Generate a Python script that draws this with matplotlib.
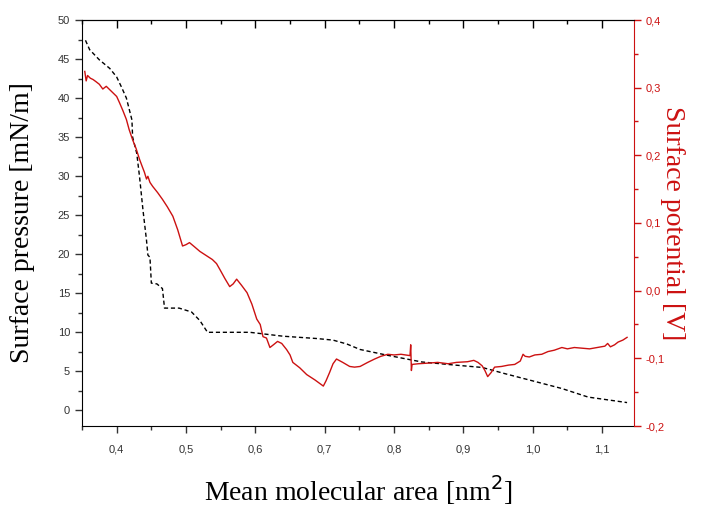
import numpy as np
import matplotlib.pyplot as plt
from matplotlib.ticker import MultipleLocator, FuncFormatter

# surface pressure isotherm (left axis)
area_p = [0.355, 0.361, 0.375, 0.390, 0.400, 0.407, 0.414, 0.422, 0.423, 0.429,
          0.433, 0.438, 0.443, 0.445, 0.448, 0.450, 0.458, 0.466, 0.469, 0.490,
          0.508, 0.520, 0.531, 0.592, 0.640, 0.689, 0.712, 0.732, 0.751, 0.791,
          0.840, 0.888, 0.927, 0.960, 0.999, 1.042, 1.080, 1.136]
pressure = [47.4, 46.2, 44.9, 43.8, 42.7, 41.4, 40.0, 37.2, 35.0, 32.9,
            29.9, 25.6, 21.8, 19.9, 19.6, 16.3, 16.2, 15.6, 13.1, 13.1,
            12.6, 11.5, 10.0, 10.0, 9.5, 9.2, 9.0, 8.5, 7.8, 7.05,
            6.2, 5.8, 5.5, 4.7, 3.8, 2.8, 1.7, 1.0]

# surface potential (right axis)
area_v = [0.354, 0.356, 0.358, 0.362, 0.366, 0.370, 0.375, 0.380, 0.385, 0.390,
          0.394, 0.400, 0.404, 0.409, 0.414, 0.418, 0.423, 0.428, 0.433, 0.437,
          0.440, 0.443, 0.445, 0.448, 0.452, 0.459, 0.466, 0.473, 0.481, 0.488,
          0.495, 0.500, 0.505, 0.512, 0.520, 0.529, 0.538, 0.544, 0.549, 0.556,
          0.563, 0.568, 0.573, 0.580, 0.588, 0.595, 0.602, 0.607, 0.611, 0.616,
          0.621, 0.626, 0.632, 0.638, 0.645, 0.650, 0.654, 0.664, 0.674, 0.686,
          0.698, 0.702, 0.707, 0.712, 0.717, 0.726, 0.736, 0.743, 0.751, 0.762,
          0.772, 0.781, 0.791, 0.800, 0.810, 0.823, 0.824, 0.825, 0.826, 0.835,
          0.850, 0.863, 0.878, 0.890, 0.906, 0.915, 0.921, 0.927, 0.931, 0.935,
          0.940, 0.945, 0.955, 0.965, 0.974, 0.982, 0.986, 0.989, 0.995, 1.003,
          1.013, 1.022, 1.031, 1.042, 1.050, 1.060, 1.071, 1.082, 1.093, 1.104,
          1.108, 1.112, 1.118, 1.123, 1.130, 1.136]
potential = [0.324, 0.310, 0.318, 0.314, 0.312, 0.309, 0.305, 0.298, 0.302, 0.297,
             0.293, 0.287, 0.278, 0.266, 0.253, 0.238, 0.223, 0.210, 0.194, 0.183,
             0.175, 0.165, 0.169, 0.160, 0.154, 0.145, 0.135, 0.124, 0.110, 0.090,
             0.066, 0.068, 0.071, 0.065, 0.058, 0.052, 0.046, 0.040, 0.031, 0.018,
             0.006, 0.010, 0.017, 0.008, -0.003, -0.020, -0.042, -0.050, -0.068, -0.070,
             -0.084, -0.080, -0.075, -0.078, -0.087, -0.095, -0.106, -0.114, -0.124, -0.132,
             -0.141, -0.133, -0.121, -0.108, -0.101, -0.106, -0.112, -0.113, -0.112, -0.106,
             -0.101, -0.097, -0.094, -0.095, -0.094, -0.096, -0.080, -0.118, -0.109, -0.108,
             -0.107, -0.106, -0.108, -0.106, -0.105, -0.103, -0.106, -0.111, -0.118, -0.127,
             -0.121, -0.113, -0.112, -0.110, -0.109, -0.104, -0.094, -0.097, -0.098, -0.095,
             -0.094, -0.090, -0.088, -0.084, -0.086, -0.084, -0.085, -0.086, -0.084, -0.082,
             -0.078, -0.083, -0.080, -0.076, -0.073, -0.069]

red = '#cc1111'
tick_col = '#333333'
sans = 'Liberation Sans'
serif = 'Liberation Serif'

def comma(v, pos):
    return ('%.1f' % v).replace('.', ',')

def comma0(v, pos):
    return '%d' % round(v)

left, bottom, width, height = 82/715, 1 - 426/508, (634-82)/715, (426-20)/508
fig = plt.figure(figsize=(7.15, 5.08), dpi=100)
ax = fig.add_axes([left, bottom, width, height])
ax2 = ax.twinx()
# thin strip sitting on the top edge: its bottom ticks drawn 'out' hang
# down into the plot, giving inward ticks on the top spine
ax3 = fig.add_axes([left, bottom + height, width, 0.0001], sharex=ax, frameon=False)

ax.plot(area_p, pressure, color='black', linewidth=1.0, dashes=(3, 2))
ax2.plot(area_v, potential, color=red, linewidth=1.0)

ax.set_xlim(0.35, 1.146)
ax.set_ylim(-2, 50)
ax2.set_ylim(-0.2, 0.4)

ax.xaxis.set_major_locator(MultipleLocator(0.1))
ax.xaxis.set_minor_locator(MultipleLocator(0.05))
ax.yaxis.set_major_locator(MultipleLocator(5))
ax.yaxis.set_minor_locator(MultipleLocator(2.5))
ax2.yaxis.set_major_locator(MultipleLocator(0.1))
ax2.yaxis.set_minor_locator(MultipleLocator(0.05))
ax.xaxis.set_major_formatter(FuncFormatter(comma))
ax.yaxis.set_major_formatter(FuncFormatter(comma0))
ax2.yaxis.set_major_formatter(FuncFormatter(comma))

# bottom and left ticks point outward
ax.tick_params(axis='both', which='both', direction='out', colors=tick_col,
               labelsize=8, width=1)
ax.tick_params(axis='both', which='major', length=5)
ax.tick_params(axis='both', which='minor', length=3)
ax.tick_params(axis='x', pad=8)
for lab in ax.get_xticklabels() + ax.get_yticklabels():
    lab.set_fontfamily(sans)

# top ticks (from the strip)
ax3.set_yticks([])
ax3.patch.set_visible(False)
ax3.tick_params(axis='x', which='both', direction='out', bottom=True, top=False,
                labelbottom=False, labeltop=False, colors='black', width=1)
ax3.tick_params(axis='x', which='major', length=6)
ax3.tick_params(axis='x', which='minor', length=3)

ax2.tick_params(axis='y', which='both', direction='out', colors=red, labelsize=8, width=1)
ax2.tick_params(axis='y', which='major', length=5)
ax2.tick_params(axis='y', which='minor', length=3)
for lab in ax2.get_yticklabels():
    lab.set_fontfamily(sans)

ax.spines['right'].set_visible(False)
ax2.spines['right'].set_color(red)
for s in ['left', 'bottom']:
    ax2.spines[s].set_visible(False)

ax.set_ylabel('Surface pressure [mN/m]', fontfamily=serif, fontsize=20)
ax.yaxis.set_label_coords(-0.085, 0.5)
ax2.set_ylabel('Surface potential [V]', fontfamily=serif, fontsize=20, color=red,
               rotation=270)
ax2.yaxis.set_label_coords(1.092, 0.5)
ax.set_xlabel('Mean molecular area [nm$^2$]', fontfamily=serif, fontsize=20)
ax.xaxis.set_label_coords(0.5, -0.115)

fig.savefig('out.png', dpi=100)
